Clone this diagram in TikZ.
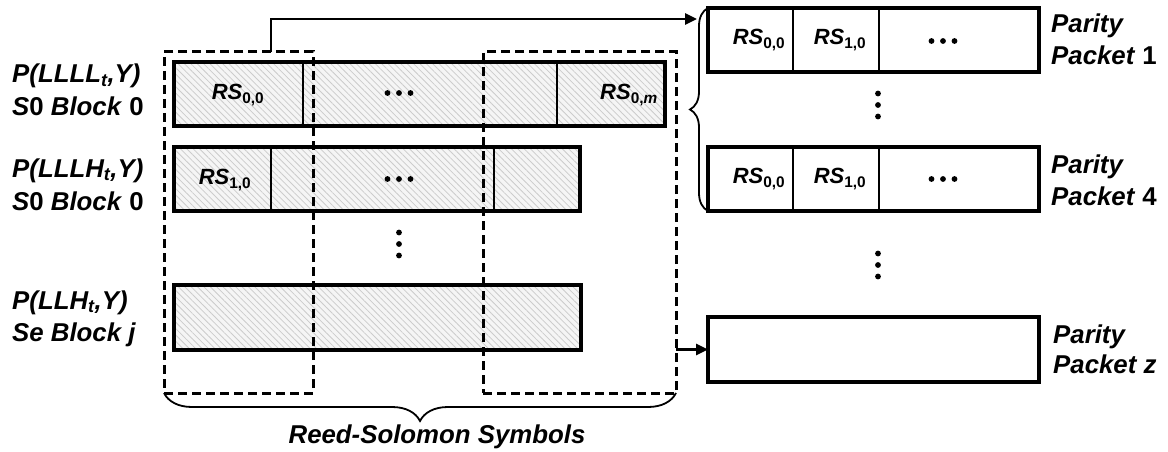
\documentclass[tikz,border=0pt]{standalone}
\usepackage{fontspec}
\setmainfont{Liberation Sans}
\usetikzlibrary{arrows.meta,decorations.pathreplacing,patterns.meta}
\begin{document}
\begin{tikzpicture}[x=1pt,y=1pt,
  hatchbox/.style={draw, line width=3.1pt, preaction={fill=gray!8},
    pattern={Lines[angle=-45,distance=4.5pt,line width=0.8pt]}, pattern color=gray!40,
    anchor=north west, inner sep=0pt, outer sep=0pt, minimum height=64pt},
  pbox/.style={draw, line width=3.3pt, fill=white, anchor=north west, inner sep=0pt, outer sep=0pt, minimum height=64pt, minimum width=331pt},
  dbox/.style={draw, line width=3pt, dash pattern=on 9pt off 5pt, anchor=north west, inner sep=0pt, outer sep=0pt},
  divline/.style={line width=2.4pt},
  arrline/.style={line width=2.8pt, -{Triangle[length=12pt,width=11pt]}},
  bracestyle/.style={line width=1.8pt, decorate},
  lbl/.style={font=\fontsize{25.8}{30}\selectfont\bfseries\itshape, inner sep=0pt},
  rs/.style={font=\fontsize{22}{22}\selectfont\bfseries\itshape, inner sep=0pt},
  dotstyle/.style={fill=black}
]
\useasboundingbox (0,0) rectangle (1168,-452);

% left rows
\node[hatchbox, minimum width=491pt] (r1) at (174,-62) {};
\node[hatchbox, minimum width=406pt] (r2) at (174,-147) {};
\node[hatchbox, minimum width=407pt, minimum height=65pt] (r3) at (174,-285) {};
\coordinate (v1) at (303,0);
\coordinate (v2) at (557,0);
\coordinate (v3) at (271,0);
\coordinate (v4) at (494,0);
\draw[divline] (r1.north -| v1) -- (r1.south -| v1);
\draw[divline] (r1.north -| v2) -- (r1.south -| v2);
\draw[divline] (r2.north -| v3) -- (r2.south -| v3);
\draw[divline] (r2.north -| v4) -- (r2.south -| v4);

\node[rs] (t00) at (238,-95) {RS\textsubscript{\upshape 0,0}};
\node[rs, anchor=east] (t0m) at (658,-95) {RS\textsubscript{\upshape 0,\itshape m}};
\node[rs] (t10) at (225,-180) {RS\textsubscript{\upshape 1,0}};

% dashed boxes
\node[dbox, minimum width=149pt, minimum height=341pt] (d1) at (164,-52) {};
\node[dbox, minimum width=193pt, minimum height=341pt] (d2) at (483,-52) {};

% parity packets
\node[pbox] (p1) at (708,-8) {};
\node[pbox] (p4) at (708,-147) {};
\node[pbox, minimum height=65pt] (pz) at (708,-317) {};
\coordinate (w1) at (793,0);
\coordinate (w2) at (879,0);
\foreach \p in {p1,p4} {
  \draw[divline] (\p.north -| w1) -- (\p.south -| w1);
  \draw[divline] (\p.north -| w2) -- (\p.south -| w2);
}
\node[rs] (a00) at (759,-40) {RS\textsubscript{\upshape 0,0}};
\node[rs] (a10) at (840,-40) {RS\textsubscript{\upshape 1,0}};
\node[rs] (b00) at (759,-179) {RS\textsubscript{\upshape 0,0}};
\node[rs] (b10) at (840,-179) {RS\textsubscript{\upshape 1,0}};

% dots
\foreach \dx in {-11.5,0,11.5} {
  \fill[dotstyle] (399+\dx,-93) circle (2.9pt);
  \fill[dotstyle] (399+\dx,-179) circle (2.9pt);
  \fill[dotstyle] (943+\dx,-41) circle (2.9pt);
  \fill[dotstyle] (943+\dx,-179) circle (2.9pt);
  \fill[dotstyle] (399,-244+\dx) circle (2.9pt);
  \fill[dotstyle] (878,-105+\dx) circle (2.9pt);
  \fill[dotstyle] (878,-265+\dx) circle (2.9pt);
}

% braces
\draw[bracestyle, decoration={brace, amplitude=18pt}] (p4.south west) -- (p1.north west);
\draw[bracestyle, decoration={brace, mirror, amplitude=28pt}] (d1.south west) -- (d2.south east);

% arrows
\coordinate (tc) at (271,-19);
\coordinate (te) at (697,-19);
\draw[arrline] (d1.north -| tc) -- (tc) -- (te);
\draw[arrline] (d2.east |- pz.west) -- (pz.west);

% labels
\node[lbl, anchor=base west] (l1a) at (12,-83) {P(LLLL\textsubscript{t},Y)};
\node[lbl, anchor=base west] (l1b) at (12,-115) {S\textup{0} Block \textup{0}};
\node[lbl, anchor=base west] (l2a) at (12,-177) {P(LLLH\textsubscript{t},Y)};
\node[lbl, anchor=base west] (l2b) at (12,-210) {S\textup{0} Block \textup{0}};
\node[lbl, anchor=base west] (l3a) at (12,-309) {P(LLH\textsubscript{t},Y)};
\node[lbl, anchor=base west] (l3b) at (12,-341) {Se Block j};

\node[lbl, anchor=base west] (q1a) at (1051,-33) {Parity};
\node[lbl, anchor=base west] (q1b) at (1051,-65) {Packet \textup{1}};
\node[lbl, anchor=base west] (q4a) at (1051,-173) {Parity};
\node[lbl, anchor=base west] (q4b) at (1051,-205) {Packet \textup{4}};
\node[lbl, anchor=base west] (qza) at (1053,-343) {Parity};
\node[lbl, anchor=base west] (qzb) at (1053,-373) {Packet z};

\node[lbl, anchor=base] (rsl) at (437,-443) {Reed-Solomon Symbols};
\end{tikzpicture}
\end{document}
